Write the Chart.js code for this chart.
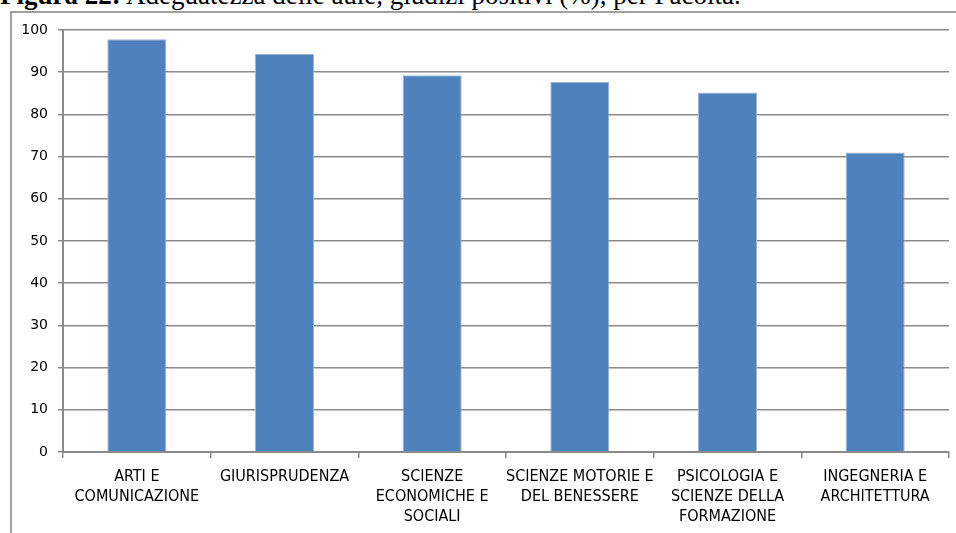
<!DOCTYPE html>
<html>
<head>
<meta charset="utf-8">
<script src="https://cdn.jsdelivr.net/npm/chart.js@4"></script>
<style>
  html, body { margin: 0; padding: 0; background: #fff; overflow: hidden; }
  body { width: 956px; height: 533px; position: relative; }
  .title {
    position: absolute; left: 0; top: -18px; white-space: nowrap; line-height: 1;
    font-family: 'Liberation Serif', 'Times New Roman', serif; font-size: 27px; color: #000;
  }
  .frame {
    position: absolute; left: 10px; top: 11px; width: 960px; height: 540px;
    border-left: 2px solid #a0a0a0; border-top: 2px solid #a0a0a0;
  }
  canvas { position: absolute; left: 0; top: 0; }
</style>
</head>
<body>
<div class="title"><b>Figura 22:</b> Adeguatezza delle aule, giudizi positivi (%), per Facoltà.</div>
<div class="frame"></div>
<canvas id="chart" width="956" height="533"></canvas>
<script>
// facolta e percentuali di giudizi positivi
const categories = [
  ['ARTI E', 'COMUNICAZIONE'],
  'GIURISPRUDENZA',
  ['SCIENZE', 'ECONOMICHE E', 'SOCIALI'],
  ['SCIENZE MOTORIE E', 'DEL BENESSERE'],
  ['PSICOLOGIA E', 'SCIENZE DELLA', 'FORMAZIONE'],
  ['INGEGNERIA E', 'ARCHITETTURA']
]
const values = [97.8, 94.3, 89.3, 87.7, 85.2, 71.0]
const yTicks = [0, 10, 20, 30, 40, 50, 60, 70, 80, 90, 100]

const gridGrey = '#8a8a8a'

new Chart(document.getElementById('chart').getContext('2d'), {
  type: 'bar',
  data: {
    labels: categories,
    datasets: [{
      data: values,
      backgroundColor: '#4f81bd',
      borderColor: '#9db6da',
      borderWidth: 1,
      categoryPercentage: 1,
      barPercentage: 0.4
    }]
  },
  options: {
    responsive: false,
    animation: false,
    events: [],
    layout: { padding: { left: 0, right: 7, top: 30, bottom: 0 } },
    plugins: { legend: { display: false }, tooltip: { enabled: false } },
    scales: {
      x: {
        offset: true,
        grid: { display: true, drawOnChartArea: false, offset: true, color: gridGrey, lineWidth: 1.5, tickLength: 6 },
        border: { color: gridGrey, width: 2 },
        ticks: {
          color: '#000', maxRotation: 0, autoSkip: false, padding: 9,
          font: { family: "'Liberation Sans Narrow', 'DejaVu Sans Condensed', sans-serif", size: 16, lineHeight: 1.25 }
        },
        afterFit: s => { s.height = 81 }
      },
      y: {
        min: yTicks[0],
        max: yTicks[yTicks.length - 1],
        afterBuildTicks: s => { s.ticks = yTicks.map(v => ({ value: v })) },
        grid: { color: gridGrey, lineWidth: 1.5, tickLength: 5 },
        border: { color: gridGrey, width: 2 },
        ticks: {
          color: '#000', padding: 10,
          font: { family: "'DejaVu Sans', Verdana, sans-serif", size: 14 }
        },
        afterFit: s => { s.width = 63 }
      }
    }
  }
})
</script>
</body>
</html>
